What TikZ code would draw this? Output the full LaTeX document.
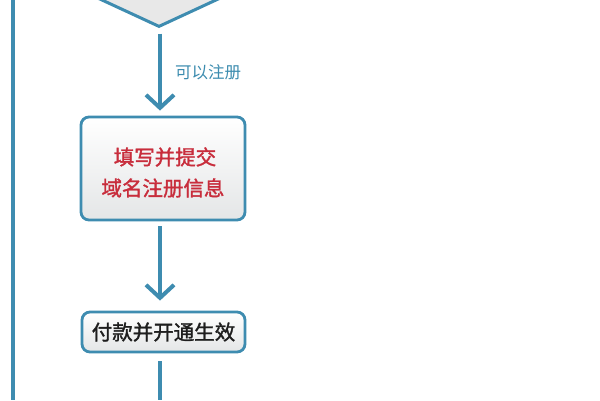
\documentclass[tikz,border=0pt]{standalone}
\usepackage{fontspec}
\newfontfamily\cjk{Noto Sans CJK SC}
\newfontfamily\cjkb[FakeBold=1.6]{Noto Sans CJK SC}
\usetikzlibrary{shapes.geometric,arrows.meta}
\definecolor{cblue}{RGB}{62,140,176}
\definecolor{cred}{RGB}{200,45,60}
\definecolor{ctext}{RGB}{30,30,30}
\definecolor{clab}{RGB}{60,140,175}
\tikzset{
  flowbox/.style={draw=cblue,line width=2.8pt,rounded corners=8pt,top color=white,bottom color=cblue!12!gray!20,inner sep=0pt,align=center},
  flowarrow/.style={draw=cblue,line width=3.5pt,-{Straight Barb[length=13pt,width=28pt,line width=4pt]}},
  flowline/.style={draw=cblue,line width=3.5pt},
  boxtext/.style={font=\cjkb\fontsize{20.5pt}{24pt}\selectfont},
}
\begin{document}
\begin{tikzpicture}[x=1pt,y=-1pt]
\useasboundingbox (0,0) rectangle (600,400);
\clip (0,0) rectangle (600,400);
\fill[white] (0,0) rectangle (600,400);
\coordinate (ltop) at (13,0);
\coordinate (lbot) at (13,400);
\draw[flowline,line width=4.5pt] (ltop) -- (lbot);
\node[diamond,draw=cblue,line width=3pt,fill=gray!18,minimum width=206pt,minimum height=96pt,inner sep=0pt] (dia) at (159,-21) {};
\node[flowbox,minimum width=164pt,minimum height=103pt] (reg) at (163,168.5) {};
\node[boxtext,text=cred] (regt1) at (165,157) {填写并提交};
\node[boxtext,text=cred] (regt2) at (163,188) {域名注册信息};
\node[flowbox,boxtext,minimum width=163pt,minimum height=40pt,text=ctext] (pay) at (163.5,332) {付款并开通生效};
\coordinate (ax) at (160,0);
\draw[flowarrow] ([yshift=-5pt]dia.south -| ax) -- ([yshift=5pt]reg.north -| ax) node[midway,right=10pt,text=clab,font=\cjk\fontsize{16.5pt}{19pt}\selectfont] (lab) {可以注册};
\draw[flowarrow] ([yshift=-5pt]reg.south -| ax) -- ([yshift=10pt]pay.north -| ax);
\coordinate (bot) at (160,400);
\draw[flowline] ([yshift=-8pt]pay.south -| ax) -- (bot);
\end{tikzpicture}
\end{document}
